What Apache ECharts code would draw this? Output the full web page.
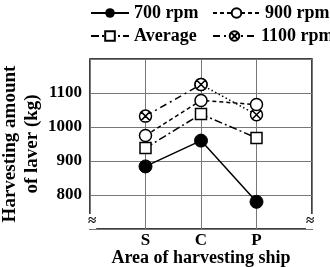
<!DOCTYPE html>
<html>
<head>
<meta charset="utf-8">
<script src="https://cdn.jsdelivr.net/npm/echarts@6/dist/echarts.min.js"></script>
<style>
  html, body { margin: 0; padding: 0; background: #fff; }
  #chart { width: 330px; height: 267px; }
</style>
</head>
<body>
<div id="chart"></div>
<script>
// data
const areas = ['S', 'C', 'P']
const rpm700 = [884, 960, 780]
const rpm900 = [975, 1078, 1066]
const rpm1100 = [1032, 1125, 1036]
const average = [938, 1038, 968]
const yTicks = [800, 900, 1000, 1100]

const font = 'Liberation Serif'
const crossCircle = 'path://M10,0 A10,10 0 1,1 10,20 A10,10 0 1,1 10,0 Z M2.93,2.93 L17.07,17.07 M17.07,2.93 L2.93,17.07'

// x position of each area on the value axis (1, 2, 3)
const pts = vals => vals.map((v, i) => [i + 1, v])
const part = (vals, from, to) => vals.map((v, i) => [i + 1, i >= from && i <= to ? v : null])

const chart = echarts.init(document.getElementById('chart'))

const legendText = { fontFamily: font, fontWeight: 'bold', fontSize: 18, color: '#000' }
function legendAt(name, left, top, w) {
  return {
    data: [name], left: left, top: top, itemWidth: w, itemHeight: 12, itemGap: 0,
    textStyle: legendText, padding: 0, selectedMode: false
  }
}

chart.setOption({
  animation: false,
  legend: [
    legendAt('700 rpm', 90, 4, 38),
    legendAt('900 rpm', 212, 4, 47),
    legendAt('Average', 90, 27, 38),
    legendAt('1100 rpm', 212, 27, 43)
  ],
  grid: {
    left: 90, right: 18, top: 59, bottom: 38, outerBoundsMode: 'none',
    show: true, borderColor: '#000', borderWidth: 1.5
  },
  xAxis: {
    type: 'value', min: 0, max: 4, interval: 1,
    name: 'Area of harvesting ship', nameLocation: 'middle', nameGap: 20, nameMoveOverlap: false,
    nameTextStyle: { fontFamily: font, fontWeight: 'bold', fontSize: 18, color: '#000' },
    axisLine: { show: false }, axisTick: { show: false },
    axisLabel: {
      fontFamily: font, fontWeight: 'bold', fontSize: 17, color: '#000', margin: 3,
      formatter: v => areas[v - 1] || ''
    },
    splitLine: { show: true, lineStyle: { color: '#777', width: 1 } }
  },
  yAxis: {
    type: 'value', min: 700, max: 1200, interval: 100,
    name: 'Harvesting amount\nof laver (kg)', nameLocation: 'middle', nameGap: 47, nameMoveOverlap: false,
    nameTextStyle: { fontFamily: font, fontWeight: 'bold', fontSize: 19, color: '#000', lineHeight: 22 },
    axisLine: { show: false }, axisTick: { show: false },
    axisLabel: {
      fontFamily: font, fontWeight: 'bold', fontSize: 17, color: '#000', margin: 8,
      formatter: v => yTicks.indexOf(v) >= 0 ? String(v) : ''
    },
    splitLine: { show: true, lineStyle: { color: '#777', width: 1 } }
  },
  graphic: [
    { type: 'text', left: 88, top: 214, z: 100, style: { text: '≈', font: 'bold 15px ' + font, fill: '#000', backgroundColor: '#fff' } },
    { type: 'text', left: 306, top: 214, z: 100, style: { text: '≈', font: 'bold 15px ' + font, fill: '#000', backgroundColor: '#fff' } }
  ],
  series: [
    {
      name: '700 rpm', type: 'line', data: pts(rpm700),
      symbol: 'circle', symbolSize: 13,
      lineStyle: { color: '#000', width: 1.5, type: 'solid' },
      itemStyle: { color: '#000', borderColor: '#000' }, z: 5
    },
    {
      name: 'Average', type: 'line', data: pts(average),
      symbol: 'rect', symbolSize: 11,
      lineStyle: { color: '#000', width: 1.5, type: [8, 3, 2, 3] },
      itemStyle: { color: '#fff', borderColor: '#000', borderWidth: 1.5 }, z: 4
    },
    {
      name: '900 rpm', type: 'line', data: pts(rpm900),
      symbol: 'circle', symbolSize: 12,
      lineStyle: { color: '#000', width: 1.5, type: [4, 3] },
      itemStyle: { color: '#fff', borderColor: '#000', borderWidth: 1.5 }, z: 3
    },
    {
      name: '1100 rpm', type: 'line', data: part(rpm1100, 0, 1),
      symbol: crossCircle, symbolSize: 12,
      lineStyle: { color: '#000', width: 1.5, type: [7, 4, 2, 4] },
      itemStyle: { color: '#fff', borderColor: '#000', borderWidth: 1.5 }, z: 2
    },
    {
      name: '1100 rpm dotted', type: 'line', data: part(rpm1100, 1, 2),
      symbol: crossCircle, symbolSize: 12,
      lineStyle: { color: '#000', width: 1.5, type: [1.5, 2.5] },
      itemStyle: { color: '#fff', borderColor: '#000', borderWidth: 1.5 }, z: 2
    }
  ]
})
</script>
</body>
</html>
